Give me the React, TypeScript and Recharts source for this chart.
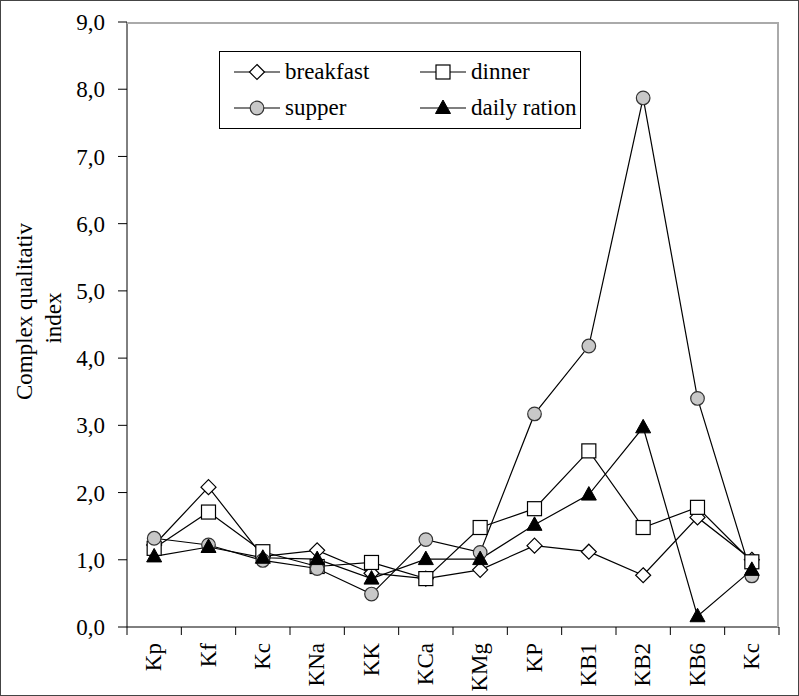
import {
  LineChart,
  Line,
  XAxis,
  YAxis,
  Legend,
} from "recharts";

const categories = ["Kp", "Kf", "Kc", "KNa", "KK", "KCa", "KMg", "KP", "KB1", "KB2", "KB6", "Kc"];
const breakfast = [1.22, 2.08, 1.05, 1.14, 0.8, 0.72, 0.85, 1.21, 1.12, 0.77, 1.63, 1.0];
const dinner = [1.17, 1.71, 1.12, 0.9, 0.96, 0.72, 1.48, 1.76, 2.62, 1.48, 1.78, 0.97];
const supper = [1.32, 1.22, 0.99, 0.87, 0.49, 1.3, 1.11, 3.17, 4.18, 7.87, 3.4, 0.76];
const dailyRation = [1.05, 1.19, 1.03, 1.01, 0.72, 1.01, 1.01, 1.52, 1.97, 2.97, 0.16, 0.85];
const yTicks = [0, 1, 2, 3, 4, 5, 6, 7, 8, 9];

const FONT = "'Liberation Serif', 'Times New Roman', serif";
const W = 799;
const H = 696;
const MARGIN = { top: 22, right: 20, bottom: 0, left: 0 };
const Y_WIDTH = 127;
const X_HEIGHT = 69;
const BAND = (W - Y_WIDTH - MARGIN.right) / categories.length;

const data = categories.map((cat, i) => ({
  idx: i,
  cat,
  breakfast: breakfast[i],
  dinner: dinner[i],
  supper: supper[i],
  daily: dailyRation[i],
}));

type Shape = "diamond" | "square" | "circle" | "triangle";

const series: { key: string; name: string; shape: Shape }[] = [
  { key: "breakfast", name: "breakfast", shape: "diamond" },
  { key: "dinner", name: "dinner", shape: "square" },
  { key: "supper", name: "supper", shape: "circle" },
  { key: "daily", name: "daily ration", shape: "triangle" },
];

function marker(shape: Shape, cx: number, cy: number, key?: string) {
  switch (shape) {
    case "diamond": {
      const r = 7.5;
      return (
        <path key={key} d={`M${cx},${cy - r}L${cx + r},${cy}L${cx},${cy + r}L${cx - r},${cy}Z`}
          fill="#fff" stroke="#000" strokeWidth={1.2} />
      );
    }
    case "square":
      return <rect key={key} x={cx - 7} y={cy - 7} width={14} height={14} fill="#fff" stroke="#000" strokeWidth={1.2} />;
    case "circle":
      return <circle key={key} cx={cx} cy={cy} r={6.8} fill="#c8c8c8" stroke="#333" strokeWidth={1.2} />;
    default:
      return (
        <path key={key} d={`M${cx},${cy - 8}L${cx + 7.5},${cy + 5.5}L${cx - 7.5},${cy + 5.5}Z`}
          fill="#000" stroke="#000" strokeWidth={1} />
      );
  }
}

const makeDot = (shape: Shape) => (p: any) => {
  if (p.cx == null || p.cy == null) return <g key={`e-${p.index}`} />;
  return marker(shape, p.cx, p.cy, `${shape}-${p.index}`);
};

// category labels at band centres, tick marks on the band edges
const XTick = (props: any) => {
  const { x, y, payload } = props;
  const i = Number(payload.value);
  const top = y - 16;
  return (
    <g>
      <line x1={x - BAND / 2} x2={x - BAND / 2} y1={top} y2={top + 8} stroke="#000" />
      {i === categories.length - 1 && (
        <line x1={x + BAND / 2} x2={x + BAND / 2} y1={top} y2={top + 8} stroke="#000" />
      )}
      <text x={x + 7} y={y} transform={`rotate(-90, ${x + 7}, ${y})`} textAnchor="end"
        fontFamily={FONT} fontSize={23} fill="#000">
        {categories[i]}
      </text>
    </g>
  );
};

const YLabel = () => (
  <g fontFamily={FONT} fontSize={23} fill="#000">
    <text x={32} y={400} transform="rotate(-90, 32, 400)" textAnchor="start">Complex qualitativ</text>
    <text x={61} y={318} transform="rotate(-90, 61, 318)" textAnchor="middle">index</text>
  </g>
);

const renderLegend = () => (
  <div
    style={{
      border: "1px solid #000",
      background: "#fff",
      display: "grid",
      gridTemplateColumns: "186px 170px",
      rowGap: 10,
      padding: "7px 0 7px 14px",
      fontFamily: FONT,
      fontSize: 23,
      color: "#000",
      lineHeight: "26px",
    }}
  >
    {series.map((s) => (
      <div key={s.key} style={{ display: "flex", alignItems: "center" }}>
        <svg width={46} height={22} style={{ display: "block" }}>
          <line x1={0} x2={46} y1={11} y2={11} stroke="#000" strokeWidth={1.2} />
          {marker(s.shape, 23, 11)}
        </svg>
        <span style={{ marginLeft: 5 }}>{s.name}</span>
      </div>
    ))}
  </div>
);

export default function App() {
  return (
    <div style={{ position: "absolute", left: 0, top: 0, width: W, height: H, background: "#fff" }}>
      <LineChart width={W} height={H} data={data} margin={MARGIN}>
        <XAxis
          dataKey="idx"
          type="number"
          domain={[-0.5, categories.length - 0.5]}
          ticks={data.map((d) => d.idx)}
          interval={0}
          height={X_HEIGHT}
          axisLine={{ stroke: "#000" }}
          tickLine={false}
          tickSize={8}
          tickMargin={8}
          tick={<XTick />}
        />
        <YAxis
          domain={[0, 9]}
          ticks={yTicks}
          interval={0}
          width={Y_WIDTH}
          axisLine={{ stroke: "#000" }}
          tickLine={{ stroke: "#000" }}
          tickSize={9}
          tickMargin={13}
          tick={{ fontFamily: FONT, fontSize: 23, fill: "#000" }}
          tickFormatter={(v: number) => v.toFixed(1).replace(".", ",")}
          label={<YLabel />}
        />
        <Legend
          content={renderLegend}
          layout="horizontal"
          verticalAlign="middle"
          align="center"
          wrapperStyle={{ left: 219, top: 51, width: 362 }}
        />
        {series.map((s) => (
          <Line
            key={s.key}
            dataKey={s.key}
            name={s.name}
            type="linear"
            stroke="#000"
            strokeWidth={1.2}
            dot={makeDot(s.shape)}
            activeDot={false}
            isAnimationActive={false}
          />
        ))}
      </LineChart>
      <div style={{ position: "absolute", left: Y_WIDTH, top: MARGIN.top, width: W - Y_WIDTH - MARGIN.right, height: H - MARGIN.top - X_HEIGHT, borderTop: "2px solid #aaa", borderRight: "2px solid #aaa", boxSizing: "border-box", pointerEvents: "none" }} />
      <div style={{ position: "absolute", inset: 0, border: "1px solid #444", pointerEvents: "none" }} />
    </div>
  );
}
